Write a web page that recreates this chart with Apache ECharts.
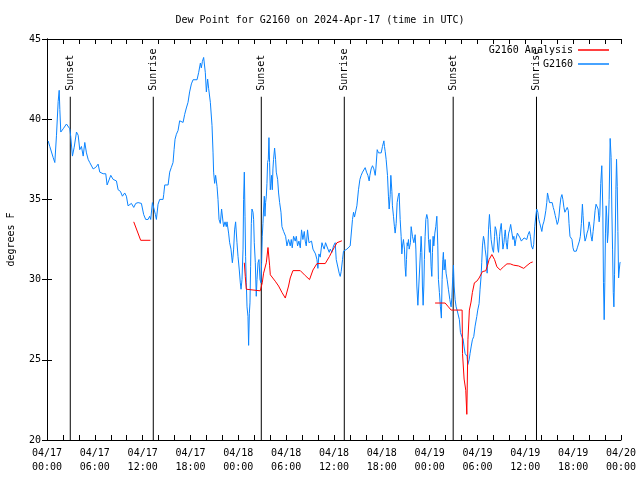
<!DOCTYPE html>
<html>
<head>
<meta charset="utf-8">
<script src="https://cdn.jsdelivr.net/npm/echarts@6/dist/echarts.min.js"></script>
<style>html,body{margin:0;padding:0;background:#fff}#c{width:640px;height:480px}</style>
</head>
<body>
<div id="c"></div>
<script>
// Hours since 2024-04-17 00:00 UTC, dew point in degrees F
var g2160 = [[0.15,38.64],[0.35,38.3],[0.78,37.6],[0.98,37.3],[1.19,39.0],[1.40,41.1],[1.53,41.8],[1.61,40.6],[1.73,39.2],[2.03,39.4],[2.44,39.7],[2.86,39.4],[2.98,38.9],[3.19,37.7],[3.41,38.25],[3.70,39.2],[3.91,39.0],[4.11,38.1],[4.32,38.3],[4.54,37.7],[4.74,38.55],[4.95,37.9],[5.16,37.5],[5.36,37.3],[5.58,37.4],[5.79,36.9],[6.12,37.0],[6.41,37.2],[6.62,36.7],[7.04,36.6],[7.37,36.6],[7.54,35.9],[7.79,35.9],[8.0,36.5],[8.29,36.25],[8.71,36.15],[8.92,35.6],[9.21,35.5],[9.46,35.2],[9.75,35.4],[9.96,35.2],[10.17,34.6],[10.38,34.7],[10.59,34.75],[10.88,34.5],[11.13,34.75],[11.43,34.8],[11.84,34.75],[12.05,34.7],[12.13,34.05],[12.38,33.75],[12.68,33.75],[12.88,33.95],[13.01,33.75],[13.22,34.8],[13.38,34.9],[13.6,34.05],[13.72,33.75],[13.93,34.7],[14.14,35.0],[14.56,35.0],[14.64,35.3],[14.77,35.9],[15.19,35.9],[15.39,36.7],[15.6,37.0],[15.81,37.3],[15.94,38.1],[16.06,38.75],[16.23,39.06],[16.44,39.3],[16.64,39.9],[16.85,40.0],[17.07,39.8],[17.27,40.3],[17.48,40.7],[17.69,41.05],[17.89,41.7],[18.11,42.2],[18.2,42.3],[18.32,42.46],[18.82,42.46],[19.02,42.9],[19.24,43.5],[19.36,43.2],[19.49,43.6],[19.65,43.85],[19.74,43.96],[19.86,42.9],[19.99,41.7],[20.15,42.5],[20.28,41.9],[20.49,41.05],[20.7,39.6],[20.83,37.9],[20.9,36.7],[21.03,36.0],[21.15,36.5],[21.33,35.8],[21.45,35.0],[21.58,33.75],[21.74,33.5],[21.9,34.4],[22.08,33.6],[22.16,33.3],[22.33,33.6],[22.49,33.3],[22.58,33.6],[22.78,32.9],[22.91,32.3],[23.08,31.9],[23.25,31.05],[23.33,31.4],[23.41,31.9],[23.53,33.1],[23.66,33.6],[23.83,32.3],[23.96,31.45],[24.12,30.6],[24.25,29.8],[24.34,29.4],[24.46,30.0],[24.59,31.9],[24.66,35.0],[24.75,36.7],[24.84,33.95],[24.91,31.45],[25.0,29.8],[25.09,28.3],[25.21,27.7],[25.29,25.9],[25.38,27.9],[25.46,28.55],[25.54,30.8],[25.63,33.5],[25.71,34.4],[25.84,34.2],[25.92,33.75],[26.0,32.3],[26.13,31.05],[26.25,28.96],[26.34,30.0],[26.47,31.05],[26.59,31.25],[26.72,30.0],[26.84,29.8],[26.92,31.05],[27.0,32.7],[27.09,33.5],[27.17,34.4],[27.26,35.2],[27.34,33.95],[27.42,34.8],[27.51,35.2],[27.59,36.0],[27.67,37.3],[27.76,37.5],[27.84,38.85],[27.92,37.3],[28.01,35.6],[28.09,36.0],[28.17,36.5],[28.26,35.6],[28.34,36.9],[28.42,37.5],[28.55,38.2],[28.67,37.5],[28.76,36.7],[28.93,36.25],[29.05,35.4],[29.18,34.8],[29.35,34.2],[29.47,33.3],[29.68,33.0],[29.8,32.9],[29.93,32.7],[30.1,32.1],[30.3,32.5],[30.51,32.1],[30.64,32.5],[30.76,31.98],[30.93,32.7],[31.14,32.4],[31.27,32.7],[31.43,32.1],[31.6,32.4],[31.77,31.98],[31.93,33.1],[32.1,32.5],[32.27,33.0],[32.39,32.4],[32.52,32.1],[32.68,33.1],[32.86,32.3],[33.02,32.3],[33.18,32.4],[33.36,31.9],[33.52,31.9],[33.68,31.6],[33.86,31.25],[33.98,30.7],[34.11,31.6],[34.27,31.4],[34.49,32.3],[34.61,32.1],[34.77,31.9],[34.94,32.3],[35.11,32.3],[35.24,31.9],[35.4,31.7],[35.53,31.9],[35.74,31.7],[35.94,32.1],[36.15,32.3],[36.28,31.25],[36.49,31.25],[36.65,30.4],[36.78,30.2],[36.9,30.5],[37.07,31.25],[37.19,31.77],[37.62,31.9],[38.03,32.1],[38.24,32.2],[38.32,33.75],[38.45,34.2],[38.57,33.9],[38.74,33.9],[38.87,34.6],[39.0,34.7],[39.07,35.6],[39.25,36.25],[39.41,36.5],[39.58,36.7],[39.75,36.8],[39.91,36.98],[40.08,36.7],[40.25,36.5],[40.41,36.15],[40.5,36.5],[40.66,36.9],[40.83,37.1],[41.0,36.9],[41.17,36.5],[41.25,36.9],[41.42,38.1],[41.58,37.9],[41.75,37.9],[41.92,37.9],[42.08,38.3],[42.26,38.65],[42.33,38.3],[42.42,38.0],[42.54,37.5],[42.71,36.5],[42.83,35.2],[42.92,34.4],[43.05,35.3],[43.13,36.5],[43.26,35.5],[43.33,34.6],[43.46,33.95],[43.58,33.3],[43.67,32.9],[43.8,33.5],[43.92,34.8],[44.05,35.2],[44.17,35.4],[44.3,33.75],[44.42,32.7],[44.51,31.6],[44.59,32.1],[44.71,32.5],[44.84,31.9],[44.92,30.8],[45.01,30.2],[45.09,31.25],[45.18,32.3],[45.26,32.1],[45.34,32.5],[45.43,31.9],[45.59,32.3],[45.68,33.3],[45.84,32.7],[46.02,32.3],[46.18,32.8],[46.27,31.9],[46.39,29.6],[46.52,28.4],[46.68,28.4],[46.84,31.7],[46.93,32.7],[47.02,31.7],[47.09,29.6],[47.18,28.4],[47.27,29.6],[47.34,31.25],[47.43,32.7],[47.52,33.75],[47.64,34.06],[47.77,33.75],[47.85,32.5],[47.97,31.7],[48.06,32.5],[48.18,30.8],[48.27,30.2],[48.35,31.7],[48.43,32.7],[48.52,32.1],[48.65,32.9],[48.77,33.3],[48.9,33.95],[49.02,32.1],[49.1,30.0],[49.22,29.2],[49.35,28.3],[49.47,27.6],[49.56,30.0],[49.65,31.25],[49.72,31.7],[49.81,30.6],[49.94,31.25],[50.06,30.4],[50.19,30.0],[50.35,29.4],[50.53,28.75],[50.69,28.3],[50.78,28.9],[50.9,30.2],[50.98,30.9],[51.07,29.6],[51.19,28.75],[51.32,28.3],[51.44,28.1],[51.6,28.0],[51.73,27.5],[51.86,26.7],[52.03,26.45],[52.19,26.3],[52.32,25.8],[52.44,25.4],[52.57,25.4],[52.69,25.2],[52.78,24.7],[52.95,25.0],[53.07,25.4],[53.2,25.8],[53.36,26.25],[53.53,26.45],[53.7,27.1],[53.91,27.7],[54.03,28.1],[54.2,28.5],[54.32,29.4],[54.45,30.2],[54.53,31.05],[54.62,32.1],[54.75,32.7],[54.87,32.4],[54.96,31.9],[55.09,31.4],[55.21,30.4],[55.3,31.9],[55.38,33.1],[55.5,34.06],[55.63,33.1],[55.71,32.5],[55.88,31.9],[56.01,31.7],[56.14,32.7],[56.22,33.3],[56.34,33.1],[56.43,32.7],[56.56,31.9],[56.64,31.7],[56.77,32.7],[56.85,33.1],[56.98,33.5],[57.06,32.9],[57.19,31.9],[57.32,32.3],[57.39,32.7],[57.48,33.1],[57.61,32.3],[57.73,31.9],[57.82,32.5],[57.91,32.9],[58.03,33.1],[58.16,33.44],[58.32,32.9],[58.45,32.5],[58.57,32.7],[58.7,32.1],[58.82,32.5],[59.0,32.9],[59.16,33.0],[59.34,32.6],[59.5,32.4],[59.67,32.5],[59.84,32.6],[60.0,32.7],[60.18,32.5],[60.34,32.8],[60.51,33.0],[60.64,32.7],[60.77,32.1],[60.93,31.9],[61.05,32.2],[61.18,33.3],[61.3,33.9],[61.43,34.4],[61.57,34.2],[61.69,33.75],[61.82,33.5],[61.94,33.4],[62.07,33.0],[62.19,33.4],[62.32,33.6],[62.44,33.9],[62.57,34.3],[62.69,34.8],[62.78,35.4],[62.91,35.1],[63.03,34.8],[63.2,34.9],[63.37,34.8],[63.5,34.5],[63.62,34.3],[63.75,34.0],[63.87,33.75],[64.0,33.44],[64.12,33.6],[64.21,33.9],[64.34,34.6],[64.46,35.1],[64.59,35.3],[64.71,35.0],[64.84,34.5],[64.96,34.2],[65.14,34.3],[65.26,34.5],[65.39,34.3],[65.48,33.5],[65.6,32.7],[65.73,32.6],[65.85,32.5],[65.98,31.98],[66.1,31.77],[66.23,31.67],[66.39,31.77],[66.52,31.98],[66.65,32.1],[66.78,32.4],[66.9,32.7],[67.03,33.5],[67.16,34.7],[67.24,34.0],[67.37,32.9],[67.49,32.4],[67.62,32.6],[67.74,32.9],[67.87,33.1],[68.0,33.6],[68.12,33.3],[68.25,32.7],[68.37,32.4],[68.5,33.0],[68.62,33.6],[68.75,34.3],[68.87,34.7],[69.0,34.6],[69.13,34.4],[69.26,33.6],[69.34,34.0],[69.46,36.0],[69.59,37.1],[69.72,34.4],[69.8,29.8],[69.89,27.5],[69.97,29.8],[70.05,32.9],[70.14,34.6],[70.22,33.9],[70.3,32.3],[70.39,32.9],[70.51,35.0],[70.64,38.8],[70.76,37.6],[70.85,34.4],[70.94,31.9],[71.03,29.2],[71.11,28.3],[71.19,30.3],[71.28,32.9],[71.36,35.6],[71.44,37.5],[71.53,35.8],[71.61,33.0],[71.7,30.1],[71.78,30.6],[71.87,31.05],[71.94,31.1]];

var g2160Analysis = [[10.88,33.6],[11.75,32.45],[12.97,32.45],[18,null],
[24.75,31.05],[24.87,30.2],[25.0,29.4],[26.75,29.3],[26.88,29.4],[27.0,29.8],[27.17,30.4],[27.51,31.05],[27.72,32.0],[27.79,32.1],[27.92,30.9],[28.01,30.3],[28.63,29.9],[29.05,29.6],[29.47,29.2],[29.89,28.85],[30.3,29.6],[30.51,30.1],[30.85,30.56],[31.77,30.56],[32.39,30.25],[32.93,30.0],[33.36,30.6],[33.86,31.0],[34.9,31.0],[35.44,31.45],[35.74,31.75],[36.03,32.0],[36.15,32.1],[36.37,32.3],[36.57,32.42],[36.99,32.42],[42,null],
[48.68,28.54],[49.94,28.54],[50.35,28.3],[50.69,28.1],[52.07,28.1],[52.12,25.4],[52.3,25.4],[52.32,23.8],[52.53,23.1],[52.66,21.6],[52.73,21.56],[52.8,26.25],[52.98,28.1],[53.19,28.6],[53.36,29.2],[53.61,29.8],[53.91,29.9],[54.2,30.1],[54.32,30.2],[54.62,30.5],[55.04,30.55],[55.21,30.8],[55.46,31.25],[55.8,31.56],[56.14,31.25],[56.43,30.8],[56.85,30.6],[57.27,30.8],[57.69,30.98],[58.11,30.98],[58.53,30.9],[59.16,30.85],[59.8,30.7],[60.21,30.88],[60.64,31.05],[60.93,31.1]];

var sunTimes = [2.92, 13.33, 26.88, 37.29, 50.95, 61.4];
var sunLabels = ['Sunset', 'Sunrise', 'Sunset', 'Sunrise', 'Sunset', 'Sunrise'];
var sunLineTop = 41.4;

var xTickLabels = ['04/17\n00:00','04/17\n06:00','04/17\n12:00','04/17\n18:00','04/18\n00:00','04/18\n06:00','04/18\n12:00','04/18\n18:00','04/19\n00:00','04/19\n06:00','04/19\n12:00','04/19\n18:00','04/20\n00:00'];

var FONT = 'DejaVu Sans Mono';
var chart = echarts.init(document.getElementById('c'), null, {renderer: 'canvas'});

var axisLineStyle = {show: true, lineStyle: {color: '#000', width: 1}};
var tickStyle = {show: true, inside: true, length: 5, lineStyle: {color: '#000', width: 1}};

var sunData = sunTimes.map(function (t) { return [t, sunLineTop]; });

chart.setOption({
  animation: false,
  backgroundColor: '#fff',
  title: {
    text: 'Dew Point for G2160 on 2024-Apr-17 (time in UTC)',
    left: 'center', top: 10,
    textStyle: {fontFamily: FONT, fontSize: 10, fontWeight: 'normal', color: '#000'}
  },
  legend: [
    {data: ['G2160 Analysis'], right: 31, top: 45, padding: 0, align: 'right', icon: 'rect', itemWidth: 31, itemHeight: 1.5,
     textStyle: {fontFamily: FONT, fontSize: 10, color: '#000'}},
    {data: ['G2160'], right: 31, top: 59, padding: 0, align: 'right', icon: 'rect', itemWidth: 31, itemHeight: 1.5,
     textStyle: {fontFamily: FONT, fontSize: 10, color: '#000'}}
  ],
  grid: {left: 47, right: 19, top: 39, bottom: 40, show: false, containLabel: false, outerBoundsMode: 'none'},
  xAxis: [
    {type: 'value', min: 0, max: 72, interval: 2, position: 'bottom',
     axisLine: axisLineStyle, axisTick: tickStyle, splitLine: {show: false},
     axisLabel: {fontFamily: FONT, fontSize: 10, color: '#000', margin: 6, lineHeight: 14,
       showMinLabel: true, showMaxLabel: true,
       formatter: function (v) { return (v % 6 === 0) ? xTickLabels[v / 6] : ''; }}},
    {type: 'value', min: 0, max: 72, interval: 2, position: 'top',
     axisLine: axisLineStyle, axisTick: tickStyle, splitLine: {show: false}, axisLabel: {show: false}}
  ],
  yAxis: [
    {type: 'value', min: 20, max: 45, interval: 5, position: 'left',
     name: 'degrees F', nameLocation: 'middle', nameGap: 31,
     nameTextStyle: {fontFamily: FONT, fontSize: 10, color: '#000'},
     axisLine: axisLineStyle, axisTick: tickStyle, splitLine: {show: false},
     axisLabel: {fontFamily: FONT, fontSize: 10, color: '#000', margin: 6}},
    {type: 'value', min: 20, max: 45, interval: 5, position: 'right',
     axisLine: axisLineStyle, axisTick: tickStyle, splitLine: {show: false}, axisLabel: {show: false}}
  ],
  series: [
    {
      type: 'custom', name: 'sun', silent: true, z: 1,
      xAxisIndex: 0, yAxisIndex: 0,
      data: sunData,
      renderItem: function (params, api) {
        var top = api.coord([api.value(0), api.value(1)]);
        var bot = api.coord([api.value(0), 20]);
        return {
          type: 'group',
          children: [
            {type: 'line', shape: {x1: top[0], y1: top[1], x2: bot[0], y2: bot[1]},
             style: {stroke: '#000', lineWidth: 1}},
            {type: 'text', x: top[0], y: top[1] - 6, rotation: Math.PI / 2,
             style: {text: sunLabels[params.dataIndex], fill: '#000', font: '10px ' + FONT,
                     align: 'left', verticalAlign: 'middle'}}
          ]
        };
      }
    },
    {
      type: 'line', name: 'G2160 Analysis', data: g2160Analysis, z: 3,
      showSymbol: false, symbol: 'none', connectNulls: false,
      lineStyle: {color: '#ff0000', width: 1}, itemStyle: {color: '#ff0000'}
    },
    {
      type: 'line', name: 'G2160', data: g2160, z: 2,
      showSymbol: false, symbol: 'none',
      lineStyle: {color: '#0a84ff', width: 1}, itemStyle: {color: '#0a84ff'}
    }
  ]
});
</script>
</body>
</html>
